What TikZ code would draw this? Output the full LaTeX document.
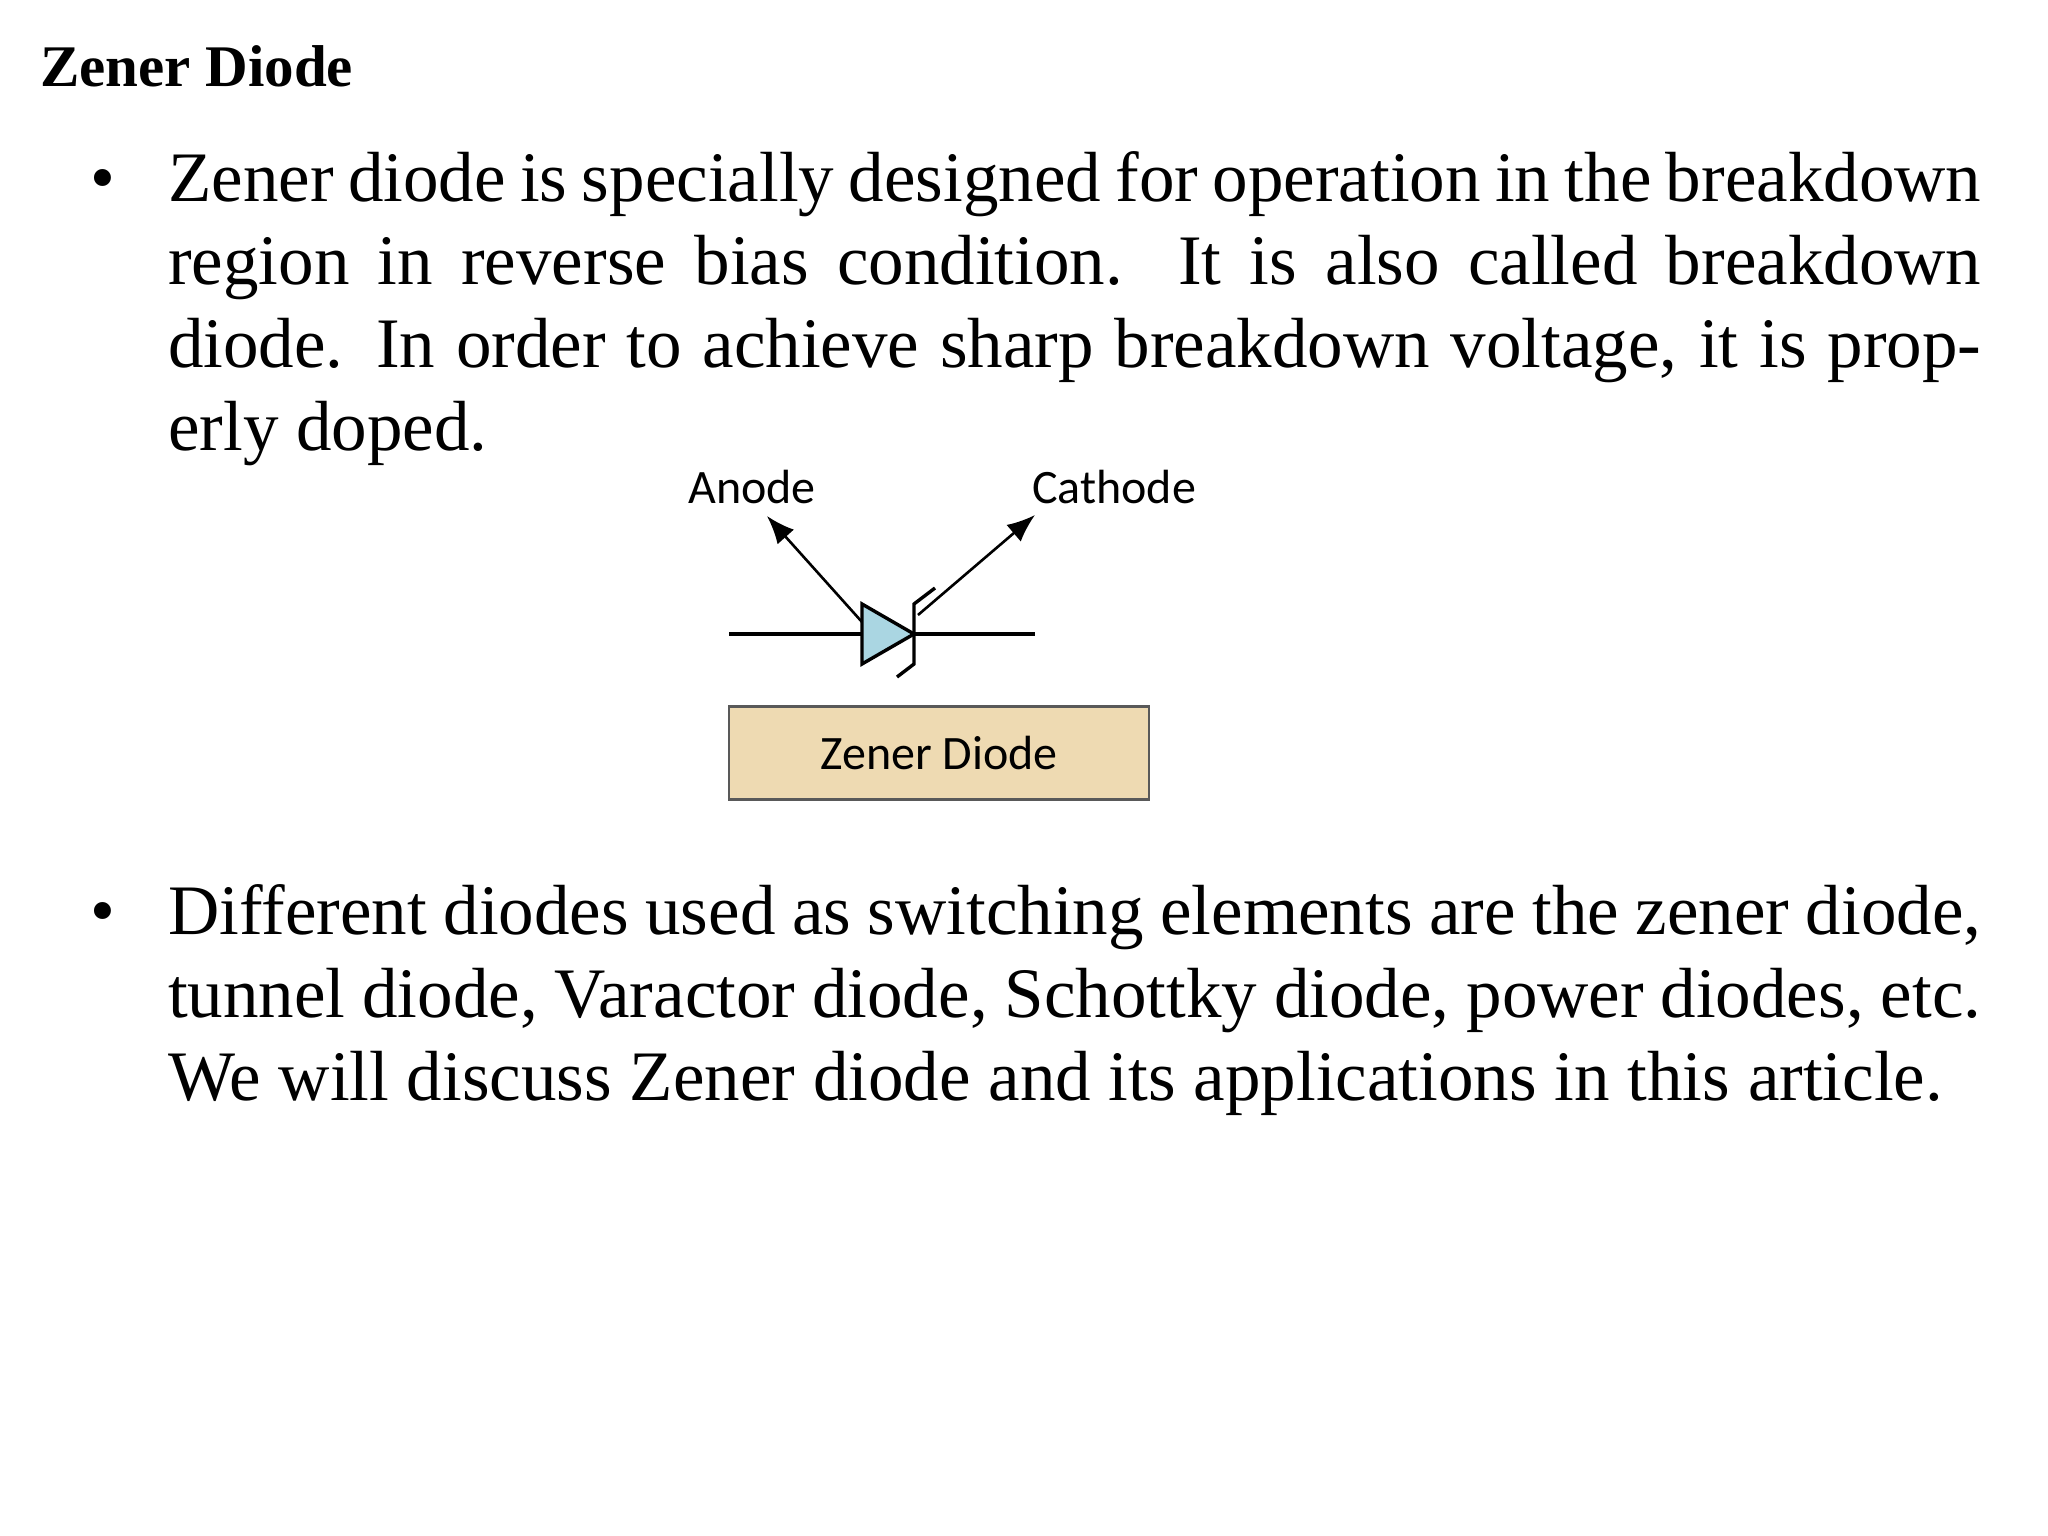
\documentclass[tikz,border=0pt]{standalone}
\usepackage{fontspec}
\setmainfont{Liberation Serif}
\newfontfamily\calib{Carlito}
\usetikzlibrary{arrows.meta}
\begin{document}
\begin{tikzpicture}[x=1pt,y=-1pt,
  body/.style={anchor=north west,inner sep=0pt,text width=1813pt,align=justify,font=\fontsize{71}{83}\selectfont},
  bul/.style={anchor=base west,inner sep=0pt,font=\fontsize{71}{83}\selectfont},
  lab/.style={anchor=base,inner sep=0pt,font=\calib\fontsize{48}{54}\selectfont},
  wire/.style={line width=3.4pt},
  arr/.style={line width=2.6pt,-{Latex[length=28pt,width=22pt]}}]
\useasboundingbox (0,0) rectangle (2048,1536);
\node[anchor=base west,inner sep=0pt,font=\bfseries\fontsize{59}{66}\selectfont] (title) at (40,87) {Zener Diode};
\node[bul] (b1) at (90,201) {•};
\node[body] (p1) at (168,143) {\strut Zener diode is specially designed for operation in the breakdown region in reverse bias condition. It is also called breakdown diode. In order to achieve sharp breakdown voltage, it is properly doped.};
\node[bul] (b2) at (90,934) {•};
\node[body] (p2) at (168,876) {\strut Different diodes used as switching elements are the zener diode, tunnel diode, Varactor diode, Schottky diode, power diodes, etc. We will discuss Zener diode and its applications in this article.};
% diagram
\node[lab] (an) at (752,503) {Anode};
\node[lab] (ca) at (1114,503) {Cathode};
\coordinate (wl) at (729,634);
\coordinate (wr) at (1035,634);
\coordinate (tip) at (914,634);
\coordinate (ae) at (767,516);
\coordinate (ce) at (1035,515);
\draw[wire] (wl) -- (862,634);
\draw[wire] (tip) -- (wr);
\draw[wire,fill={rgb,255:red,170;green,214;blue,226}] (862,604) -- (tip) -- (862,664) -- cycle;
\draw[wire] (935,588) -- (914,604) -- (914,664) -- (897,677);
\draw[arr] (862,622) -- (ae);
\draw[arr] (918,615) -- (ce);
\node[draw=black!65,line width=2.4pt,fill={rgb,255:red,238;green,218;blue,178},minimum width=420pt,minimum height=93pt,inner sep=0pt,font=\calib\fontsize{48}{54}\selectfont] (box) at (939,753) {Zener Diode};
\end{tikzpicture}
\end{document}
